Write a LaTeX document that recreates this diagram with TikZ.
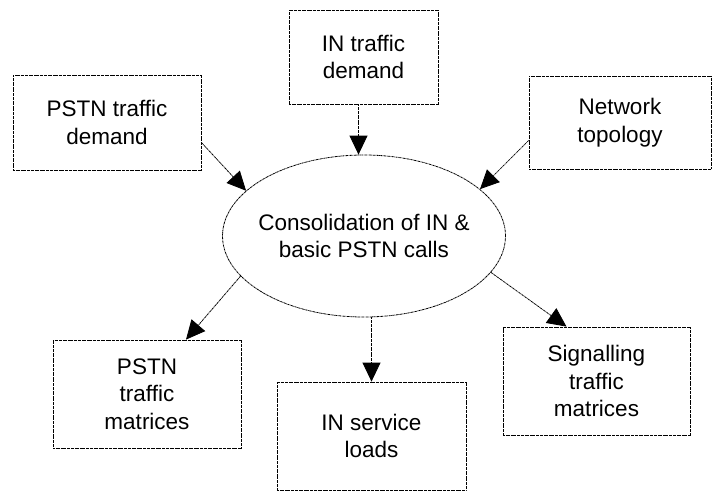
\documentclass[tikz,border=0pt]{standalone}
\usepackage{fontspec}
\setmainfont{Liberation Sans}
\usetikzlibrary{arrows.meta,shapes.geometric,calc}
\begin{document}
\begin{tikzpicture}[x=1pt,y=1pt,
  dd/.style={draw=black,line width=0.8pt,dash pattern=on 2pt off 0.6pt on 0.6pt off 0.6pt},
  box/.style={dd,rectangle,align=center,font=\fontsize{22.5}{27.5}\selectfont,inner sep=0pt},
  arr/.style={dd,-{Triangle[length=19pt,width=18pt]}}]
\useasboundingbox (0,0) rectangle (716,-491);
\node[box,minimum width=188,minimum height=95] (pd) at (107,-122.5) {PSTN traffic\\demand};
\node[box,minimum width=149,minimum height=94] (id) at (363.5,-57) {IN traffic\\demand};
\node[box,minimum width=182,minimum height=93] (nt) at (620,-122.5) {Network\\topology};
\node[box,ellipse,inner xsep=-50pt,inner ysep=-20pt,minimum width=283,minimum height=162] (ell) at (364,-236) {Consolidation of IN \&\\basic PSTN calls};
\node[box,minimum width=188,minimum height=108] (pm) at (147,-394) {PSTN\\traffic\\matrices};
\node[box,minimum width=189,minimum height=108] (is) at (371.5,-436) {IN service\\loads};
\node[box,minimum width=187,minimum height=108] (sm) at (596.5,-381) {Signalling\\traffic\\matrices};
\draw[arr] ($(pd.east)+(0,-20)$) -- (ell.159);
\draw[arr] ($(id.south)+(-5,0)$) -- (ell.north -| {$(id.south)+(-5,0)$});
\draw[arr] ($(nt.west)+(0,-18)$) -- (ell.22);
\draw[arr] (ell.198) -- ($(pm.north)+(39,0)$);
\draw[arr] (ell.south -| is.north) -- (is.north);
\draw[arr] (ell.344) -- ($(sm.north)+(-30,0)$);
\end{tikzpicture}
\end{document}
